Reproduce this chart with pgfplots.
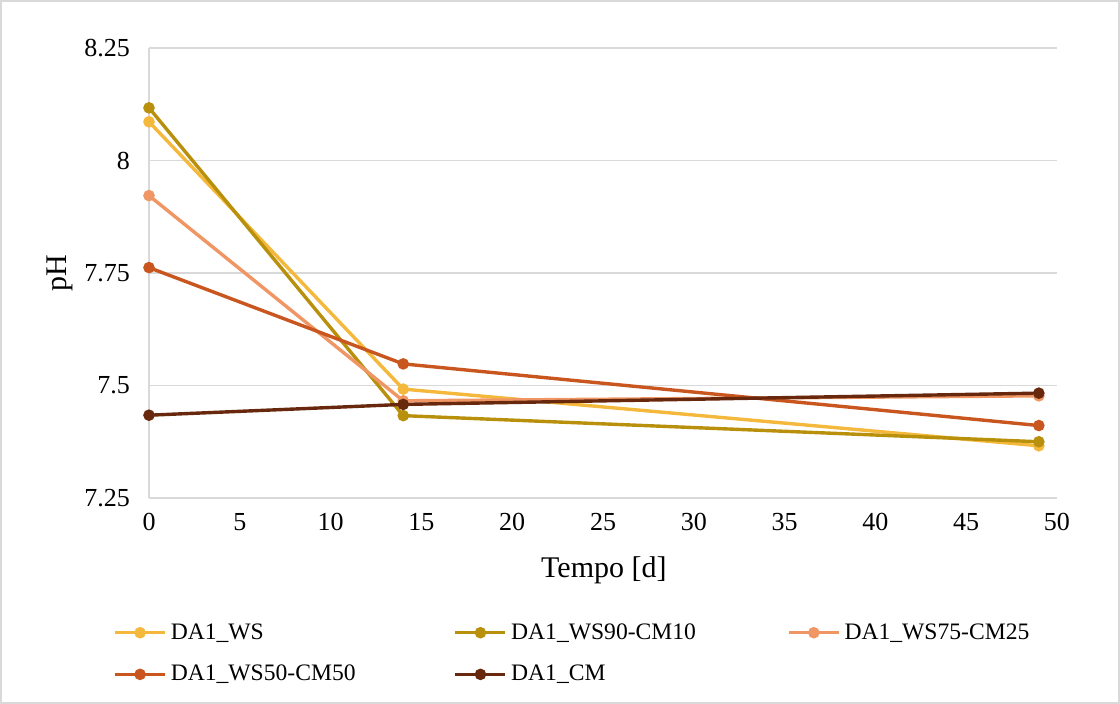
\documentclass[border=0pt]{standalone}
\usepackage{fontspec}
\setmainfont{Liberation Serif}
\usepackage{pgfplots}
\pgfplotsset{compat=1.18}
\definecolor{cWS}{RGB}{244,185,60}
\definecolor{cWSa}{RGB}{184,144,12}
\definecolor{cWSb}{RGB}{240,150,100}
\definecolor{cWSc}{RGB}{200,86,30}
\definecolor{cCM}{RGB}{104,40,14}
\definecolor{gridc}{RGB}{217,217,217}
\begin{document}
\begin{tikzpicture}
\useasboundingbox (0,0) rectangle (560bp,352bp);
\draw[gridc, line width=0.7bp] (0.5bp,0.5bp) rectangle (559.5bp,351.5bp);
\begin{axis}[
  at={(74.5bp,103bp)}, anchor=south west,
  scale only axis, width=454bp, height=225bp,
  xmin=0, xmax=50, ymin=7.25, ymax=8.25,
  xtick={0,5,...,50},
  ytick={7.25,7.5,7.75,8,8.25},
  yticklabels={7.25,7.5,7.75,8,8.25},
  /pgf/number format/assume math mode=true,
  axis x line*=bottom, axis y line*=left,
  axis line style={gridc, line width=0.9bp, -},
  major tick length=0pt,
  ymajorgrids, grid style={gridc, line width=0.9bp},
  tick label style={font=\fontsize{13bp}{15bp}\selectfont, black},
  yticklabel style={xshift=-6bp},
  xticklabel style={yshift=-4bp},
  xlabel={Tempo [d]},
  ylabel={pH},
  label style={font=\fontsize{15bp}{18bp}\selectfont},
  xlabel style={at={(axis description cs:0.501,-0.16)}, anchor=center},
  ylabel style={at={(axis description cs:-0.098,0.5)}, anchor=center},
  every axis plot/.append style={line width=1.7bp, mark=*, mark size=2bp},
  legend columns=3,
  legend style={draw=none, fill=none, at={(axis description cs:0,0)}, anchor=north west,
    xshift=-18bp, yshift=-60.5bp, font=\fontsize{11.8bp}{13bp}\selectfont,
    row sep=7.5bp, inner sep=0pt},
  legend cell align=left,
  legend image code/.code={\draw[mark repeat=2,mark phase=2] plot coordinates {(0bp,0bp) (12.5bp,0bp) (25bp,0bp)};},
]
\addplot[color=cWS] coordinates {(0,8.086) (14,7.492) (49,7.366)};
\addlegendentry{\makebox[139.5bp][l]{DA1\_WS}}
\addplot[color=cWSa] coordinates {(0,8.117) (14,7.433) (49,7.375)};
\addlegendentry{\makebox[136bp][l]{DA1\_WS90-CM10}}
\addplot[color=cWSb] coordinates {(0,7.922) (14,7.466) (49,7.477)};
\addlegendentry{\makebox[120bp][l]{DA1\_WS75-CM25}}
\addplot[color=cWSc] coordinates {(0,7.762) (14,7.548) (49,7.411)};
\addlegendentry{\makebox[139.5bp][l]{DA1\_WS50-CM50}}
\addplot[color=cCM] coordinates {(0,7.434) (14,7.458) (49,7.483)};
\addlegendentry{\makebox[136bp][l]{DA1\_CM}}
\end{axis}
\end{tikzpicture}
\end{document}
